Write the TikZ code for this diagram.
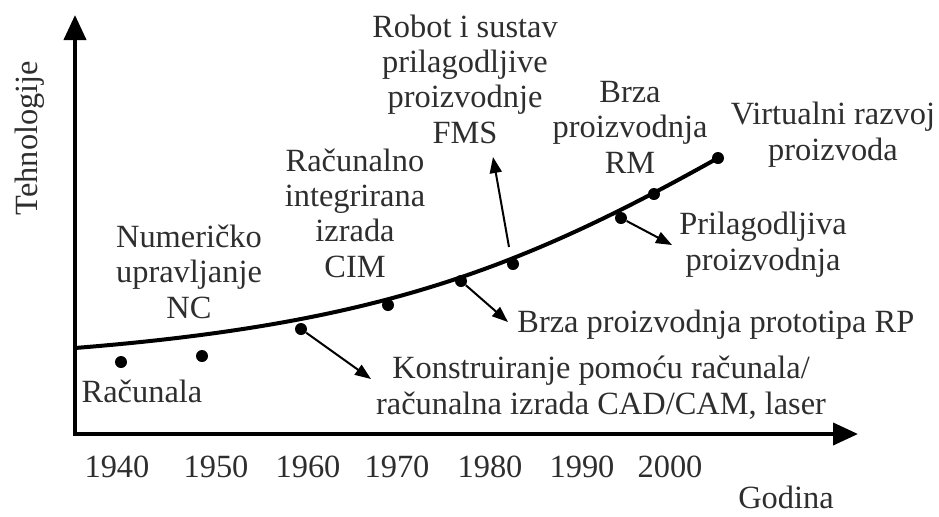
\documentclass[tikz,border=0pt]{standalone}
\usepackage{fontspec}
\setmainfont{Liberation Serif}
\usetikzlibrary{arrows.meta}
\definecolor{txt}{HTML}{2E2E2E}
\begin{document}
\begin{tikzpicture}[x=0.5pt,y=-0.5pt,
  lbl/.style={font=\fontsize{16.2}{17.6}\selectfont, text=txt, align=center, inner sep=0pt},
  dot/.style={circle, fill=black, inner sep=0pt, minimum size=6pt},
  axis/.style={line width=2pt, line join=miter, {Triangle[length=12.5pt,width=11pt]}-{Triangle[length=12.5pt,width=11pt]}},
  pointer/.style={line width=1pt, -{Triangle[length=8pt,width=6pt]}},
  curve/.style={line width=2pt}]
\useasboundingbox (0,0) rectangle (939,516);
% axes
\coordinate (ytop) at (75,15);
\coordinate (O) at (75,434);
\coordinate (xend) at (858,434);
\draw[axis] (ytop) -- (O) -- (xend);
\node[lbl, rotate=90] (ylab) at (30,138) {Tehnologije};
\node[lbl, anchor=base] (xlab) at (786,508) {Godina};
% years
\foreach \y/\x in {1940/117,1950/216,1960/308,1970/397,1980/490,1990/582,2000/670}
  \node[lbl, anchor=base] (yr\y) at (\x,477) {\y};
% curve
\coordinate (c0) at (75,348);
\coordinate (c1) at (718,158);
\draw[curve] (c0) .. controls (375,324) and (518,270) .. (c1);
% dots
\node[dot] (d1) at (121,362) {};
\node[dot] (d2) at (202,356) {};
\node[dot] (d3) at (301,329) {};
\node[dot] (d4) at (388,305) {};
\node[dot] (d5) at (461,281) {};
\node[dot] (d6) at (513,264) {};
\node[dot] (d7) at (621,218) {};
\node[dot] (d8) at (654,194) {};
\node[dot] (d9) at (718,158) {};
% pointer arrows
\coordinate (t3) at (371,379);
\coordinate (t5) at (508,322);
\coordinate (t6a) at (509,247);
\coordinate (t6) at (493,157);
\coordinate (t7) at (672,245);
\draw[pointer] (d3) -- (t3);
\draw[pointer] (d5) -- (t5);
\draw[pointer] (t6a) -- (t6);
\draw[pointer] (d7) -- (t7);
% labels (anchor base = baseline of last line)
\node[lbl, anchor=base] (racunala) at (142,402) {Računala};
\node[lbl, anchor=base] (nc) at (189,318) {Numeričko\\upravljanje\\NC};
\node[lbl, anchor=base] (cim) at (355,277) {Računalno\\integrirana\\izrada\\CIM};
\node[lbl, anchor=base] (fms) at (465,143) {Robot i sustav\\prilagodljive\\proizvodnje\\FMS};
\node[lbl, anchor=base] (rm) at (630,173) {Brza\\proizvodnja\\RM};
\node[lbl, anchor=base] (vr) at (833,160) {Virtualni razvoj\\proizvoda};
\node[lbl, anchor=base] (pp) at (763,270) {Prilagodljiva\\proizvodnja};
\node[lbl, anchor=base west] (rp) at (517,332) {Brza proizvodnja prototipa RP};
\node[lbl, anchor=base] (cad) at (601,414) {Konstruiranje pomoću računala/\\računalna izrada CAD/CAM, laser};
\end{tikzpicture}
\end{document}
